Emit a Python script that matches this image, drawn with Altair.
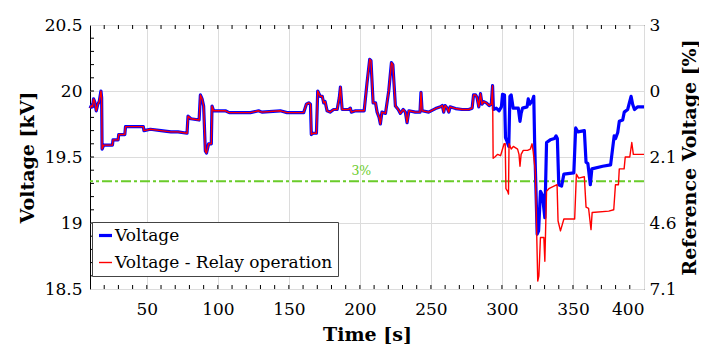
import altair as alt
import pandas as pd

# ---- data ----
t_common = [10, 11, 11.8, 12.5, 13.3, 14.4, 15.5, 16.5, 17.7, 18.2, 18.5, 19.6, 25.8, 26.2, 29.8, 30.2,
            34.5, 35, 47.5, 48, 52.5, 60, 67, 72, 78.3, 79, 81, 86.8, 87.7, 88.9, 90, 91.2, 92, 93.5,
            95.4, 95.9, 97, 105.3, 108, 122.9, 128.7, 131, 144, 148.7, 160.4, 162.3, 164, 165.2, 165.8,
            167, 169.4, 170.3, 172, 173.5, 174.5, 175.5, 176.9, 179, 181.5, 184, 185.5, 186.3, 187.5,
            192, 193.3, 194, 197, 200.3, 203, 205, 206.9, 207.8, 209.3, 211, 212.1, 213.5, 214.4, 215.5,
            218, 220.3, 222.2, 223.2, 225, 227, 228.5, 230.5, 232, 233.2, 234.5, 239, 242.3, 243, 243.8,
            248.4, 253.2, 256.7, 258, 259, 260, 261.5, 262.6, 263.5, 267.3, 272, 276.6, 279, 280, 281.5,
            282.5, 283.7, 284.9, 286, 287.2, 289, 291, 292.5, 293.4]
v_common = [19.87, 19.89, 19.88, 19.94, 19.92, 19.85, 19.90, 19.92, 20.00, 19.95, 19.56, 19.59, 19.59, 19.63,
            19.63, 19.67, 19.67, 19.73, 19.73, 19.70, 19.71, 19.70, 19.69, 19.69, 19.68, 19.81, 19.79, 19.78,
            19.97, 19.94, 19.886, 19.545, 19.53, 19.60, 19.60, 19.886, 19.85, 19.85, 19.836, 19.836, 19.85,
            19.84, 19.85, 19.836, 19.836, 19.90, 19.91, 19.90, 19.67, 19.68, 19.68, 20.0, 19.96, 19.96, 19.91,
            19.92, 19.85, 19.84, 19.86, 19.86, 19.95, 20.03, 19.86, 19.86, 19.87, 19.84, 19.85, 19.85, 19.85,
            20.06, 20.24, 20.23, 19.91, 19.91, 19.84, 19.80, 19.75, 19.84, 19.83, 20.0, 20.215, 20.2, 19.886,
            19.86, 19.83, 19.86, 19.84, 19.76, 19.85, 19.84, 19.84, 19.99, 19.85, 19.84, 19.867, 19.88, 19.89,
            19.84, 19.89, 19.87, 19.84, 19.88, 19.867, 19.86, 19.86, 19.87, 19.97, 19.97, 19.95, 19.88, 19.98,
            19.90, 19.92, 19.91, 19.89, 19.90, 20.04]

t_blue = [294, 296, 298, 299.6, 300.4, 301.8, 302.5, 303.5, 304.8, 305.6, 306.5, 307.9, 311.5, 312.7,
          313.5, 314.5, 317.7, 318.5, 319.5, 321.5, 322.4, 323, 324.8, 325.8, 327.1, 328.5, 330.2, 331.4,
          334, 337, 338.1, 339, 340, 342, 343.6, 350.6, 351.9, 353.5, 358, 359.2, 360.5, 362.2, 363.3,
          370.9, 376.5, 379, 380, 381.5, 382.6, 385, 386.1, 388.5, 390.9, 392, 393.3, 395.6, 400]
v_blue = [19.86, 19.87, 19.85, 19.88, 19.975, 19.97, 19.647, 19.62, 19.58, 19.96, 19.97, 19.87, 19.87, 19.77,
          19.83, 19.87, 19.88, 19.94, 19.90, 19.93, 19.96, 19.62, 18.915, 18.94, 19.24, 19.21, 19.04, 19.61,
          19.63, 19.64, 19.66, 19.64, 19.29, 19.28, 19.37, 19.38, 19.72, 19.69, 19.70, 19.46, 19.45, 19.29,
          19.41, 19.43, 19.44, 19.66, 19.64, 19.685, 19.77, 19.78, 19.84, 19.86, 19.96, 19.90, 19.86, 19.88,
          19.88]

t_red = [293.8, 295, 297, 299, 300, 301.5, 302.3, 302.8, 304, 304.6, 305, 306.5, 308, 311, 312, 312.7,
         313.5, 315, 318, 320, 321.2, 322, 323.5, 325.2, 326, 327.1, 329.5, 330.2, 331.4, 333, 338.8,
         339.5, 341.2, 343.6, 351.2, 352.4, 354, 358, 359.2, 361, 362.7, 363.5, 375.2, 378.7, 379.9, 382,
         382.6, 386, 386.8, 390, 391.4, 392.5, 400]
v_red = [19.49, 19.50, 19.52, 19.51, 19.545, 19.60, 19.60, 19.26, 19.24, 19.22, 19.60, 19.56, 19.58, 19.56,
         19.52, 19.43, 19.52, 19.55, 19.55, 19.56, 19.60, 19.54, 19.39, 18.56, 18.60, 18.89, 18.89, 18.71,
         19.24, 19.26, 19.29, 19.015, 18.94, 19.03, 19.03, 19.37, 19.34, 19.35, 19.12, 19.11, 18.95, 19.08,
         19.09, 19.10, 19.29, 19.29, 19.41, 19.41, 19.50, 19.50, 19.61, 19.52, 19.52]

series_names = ["Voltage", "Voltage - Relay operation"]
series_colors = ["#0000ff", "#ff0000"]
series_widths = [3.2, 1.4]

x_major = [50, 100, 150, 200, 250, 300, 350, 400]
x_minor = list(range(20, 400, 10))
y_left_ticks = [18.5, 19, 19.5, 20, 20.5]
y_minor = [18.6, 18.7, 18.8, 18.9, 19.0, 19.1, 19.2, 19.3, 19.4, 19.5, 19.6, 19.7, 19.8, 19.9,
           20.0, 20.1, 20.2, 20.3, 20.4]
right_labels = ["7.1", "4.6", "2.1", "0", "3"]
threshold_v = [19.316]
threshold_label = ["3%"]
threshold_label_t = [201]

# ---- build tables ----
rows = []
for t, v in zip(t_common + t_blue, v_common + v_blue):
    rows.append({"t": t, "v": v, "s": series_names[0]})
for t, v in zip(t_common + t_red, v_common + v_red):
    rows.append({"t": t, "v": v, "s": series_names[1]})
df = pd.DataFrame(rows)

W, H = 554, 264
FONT = "DejaVu Serif"
LS = 17      # tick label size
TS = 19      # axis title size
GREEN = "#6acc2a"
xdom = [10, 400]
ydom = [18.5, 20.5]

xs = alt.Scale(domain=xdom, nice=False, zero=False)
ys = alt.Scale(domain=ydom, nice=False, zero=False)

leg = alt.Legend(title=None, orient="none", legendX=2, legendY=197,
                 symbolType="stroke", symbolSize=169,
                 strokeColor="#444", fillColor="white",
                 padding=5, rowPadding=9, labelFontSize=LS,
                 labelFont=FONT, labelLimit=400, labelOffset=1,
                 symbolOffset=0, labelColor="black")

lines = alt.Chart(df).mark_line(strokeJoin="round").encode(
    x=alt.X("t:Q", scale=xs, title="Time [s]",
            axis=alt.Axis(values=x_major, ticks=False, domain=False, grid=True,
                          gridColor="#dcdcdc", gridWidth=1, labelPadding=12,
                          labelFont=FONT, titleFont=FONT,
                          titleY=45, titleBaseline="middle")),
    y=alt.Y("v:Q", scale=ys, title="Voltage [kV]",
            axis=alt.Axis(values=y_left_ticks, ticks=False, domain=False, grid=True,
                          gridColor="#dcdcdc", gridWidth=1, labelPadding=8,
                          labelFont=FONT, titleFont=FONT,
                          titleX=-63, titleY=H / 2, titleAngle=270,
                          titleBaseline="middle", titleAlign="center",
                          labelExpr="format(datum.value, '')")),
    color=alt.Color("s:N", scale=alt.Scale(domain=series_names, range=series_colors), legend=leg),
    strokeWidth=alt.StrokeWidth("s:N", scale=alt.Scale(domain=series_names, range=series_widths),
                                legend=leg),
)

thr_df = pd.DataFrame({"v": threshold_v, "lab": threshold_label, "t": threshold_label_t})
thr = alt.Chart(thr_df).mark_rule(color=GREEN, strokeWidth=2, strokeDash=[10, 3, 3, 3]).encode(
    y=alt.Y("v:Q", scale=ys))
thr_txt = alt.Chart(thr_df).mark_text(color=GREEN, font=FONT, fontSize=12.5, dy=-10).encode(
    x=alt.X("t:Q", scale=xs), y=alt.Y("v:Q", scale=ys), text="lab:N")

ym_df = pd.DataFrame({"v": y_minor})
yticks = alt.Chart(ym_df).mark_rule(color="black", strokeWidth=1).encode(
    y=alt.Y("v:Q", scale=ys), x=alt.value(0), x2=alt.value(4))
xm_df = pd.DataFrame({"t": x_minor})
xticks_b = alt.Chart(xm_df).mark_rule(color="black", strokeWidth=1).encode(
    x=alt.X("t:Q", scale=xs), y=alt.value(H), y2=alt.value(H - 4))
xticks_t = alt.Chart(xm_df).mark_rule(color="black", strokeWidth=1).encode(
    x=alt.X("t:Q", scale=xs), y=alt.value(0), y2=alt.value(4))

main = alt.layer(yticks, xticks_b, xticks_t, thr, lines, thr_txt)

expr = " : ".join(f"abs(datum.value - {v}) < 0.01 ? '{l}'" for v, l in zip(y_left_ticks, right_labels)) + " : ''"
right_df = pd.DataFrame({"v": y_left_ticks})
right = alt.Chart(right_df).mark_point(opacity=0).encode(
    y=alt.Y("v:Q", scale=ys, title="Reference Voltage [%]",
            axis=alt.Axis(orient="right", values=y_left_ticks, ticks=False, domain=False,
                          grid=False, labelExpr=expr, labelPadding=5,
                          labelFont=FONT, titleFont=FONT,
                          titleX=45, titleY=H / 2, titleAngle=270,
                          titleBaseline="middle", titleAlign="center")))

chart = alt.layer(main, right).resolve_scale(y="independent").properties(
    width=W, height=H,
    autosize=alt.AutoSizeParams(type="none"),
    padding={"left": 82, "top": 17, "right": 55, "bottom": 55},
).configure_view(stroke="black", strokeWidth=1).configure_axis(
    labelFont=FONT, titleFont=FONT, labelFontSize=LS, titleFontSize=TS,
    labelColor="black", titleColor="black", titleFontWeight="bold",
).configure_legend(labelColor="black", labelFont=FONT)

chart.save("out.html", embed_options={"renderer": "svg", "actions": False})
